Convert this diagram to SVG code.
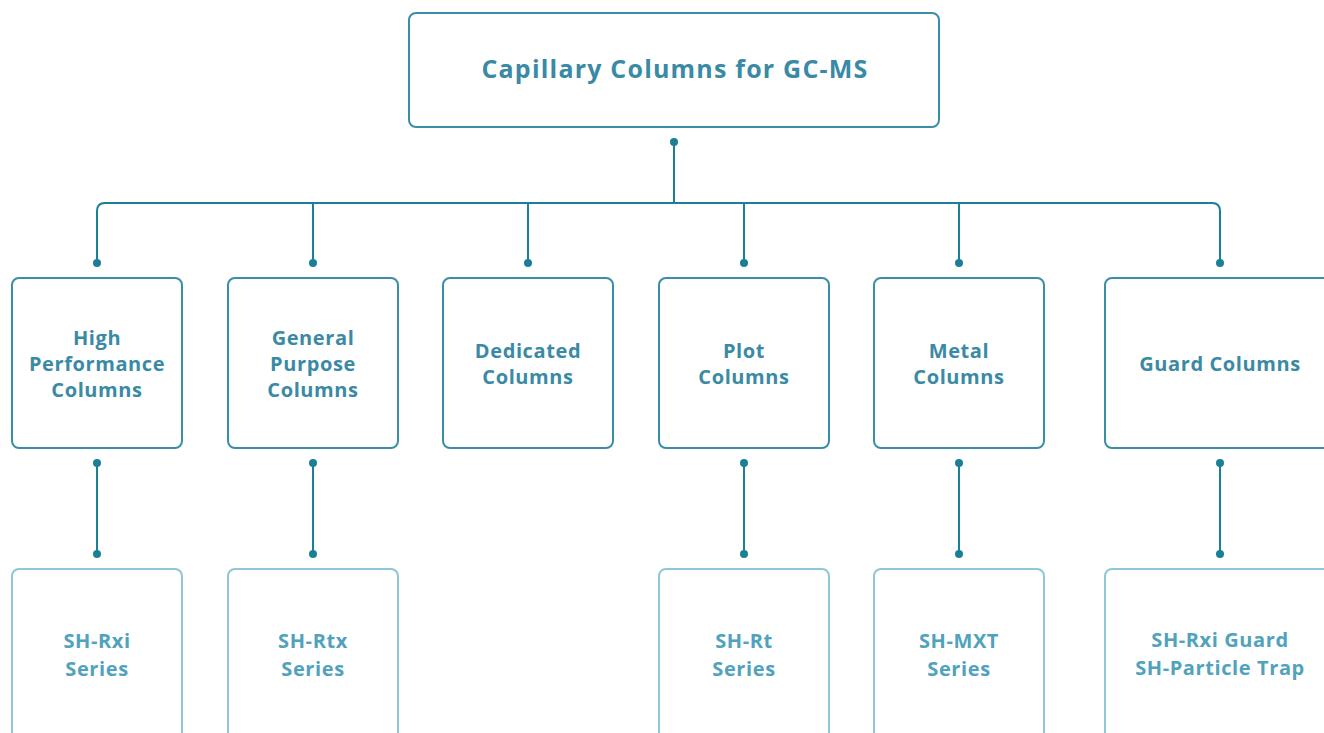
<svg xmlns="http://www.w3.org/2000/svg" width="1324" height="733" viewBox="0 0 1324 733">
<style>
.b1{fill:#fff;stroke:#3b8ea8;stroke-width:2}
.b3{fill:#fff;stroke:#8ec7d7;stroke-width:2}
.t{font-family:"Open Sans","Noto Sans",sans-serif;font-weight:bold;text-anchor:middle}
.t1{fill:#3a8aa5;font-size:25px;letter-spacing:1.2px}
.t2{fill:#3a8aa5;font-size:20px;letter-spacing:0.6px}
.t3{fill:#50a2bd;font-size:20px;letter-spacing:0.6px}
.c{fill:none;stroke:#1a7f97;stroke-width:2}
.d{fill:#1a7f97}
</style>
<rect width="1324" height="733" fill="#fff"/>
<g id="connectors">
<path class="c" d="M674 142V203M105 203H1212Q1220 203 1220 211V263M105 203Q97 203 97 211V263M313 203V263M528 203V263M744 203V263M959 203V263"/>
<path class="c" d="M97 463V554M313 463V554M744 463V554M959 463V554M1220 463V554"/>
<g class="d">
<circle cx="674" cy="142" r="4"/>
<circle cx="97" cy="263" r="4"/><circle cx="313" cy="263" r="4"/><circle cx="528" cy="263" r="4"/><circle cx="744" cy="263" r="4"/><circle cx="959" cy="263" r="4"/><circle cx="1220" cy="263" r="4"/>
<circle cx="97" cy="463" r="4"/><circle cx="313" cy="463" r="4"/><circle cx="744" cy="463" r="4"/><circle cx="959" cy="463" r="4"/><circle cx="1220" cy="463" r="4"/>
<circle cx="97" cy="554" r="4"/><circle cx="313" cy="554" r="4"/><circle cx="744" cy="554" r="4"/><circle cx="959" cy="554" r="4"/><circle cx="1220" cy="554" r="4"/>
</g>
</g>
<g id="root"><rect class="b1" x="409" y="13" width="530" height="114" rx="7"/><text class="t t1" x="675" y="78">Capillary Columns for GC-MS</text></g>
<g id="high"><rect class="b1" x="12" y="278" width="170" height="170" rx="7"/><text class="t t2"><tspan x="97" y="345">High</tspan><tspan x="97" y="371">Performance</tspan><tspan x="97" y="397">Columns</tspan></text></g>
<g id="general"><rect class="b1" x="228" y="278" width="170" height="170" rx="7"/><text class="t t2"><tspan x="313" y="345">General</tspan><tspan x="313" y="371">Purpose</tspan><tspan x="313" y="397">Columns</tspan></text></g>
<g id="dedicated"><rect class="b1" x="443" y="278" width="170" height="170" rx="7"/><text class="t t2"><tspan x="528" y="358">Dedicated</tspan><tspan x="528" y="384">Columns</tspan></text></g>
<g id="plot"><rect class="b1" x="659" y="278" width="170" height="170" rx="7"/><text class="t t2"><tspan x="744" y="358">Plot</tspan><tspan x="744" y="384">Columns</tspan></text></g>
<g id="metal"><rect class="b1" x="874" y="278" width="170" height="170" rx="7"/><text class="t t2"><tspan x="959" y="358">Metal</tspan><tspan x="959" y="384">Columns</tspan></text></g>
<g id="guard"><rect class="b1" x="1105" y="278" width="230" height="170" rx="7"/><text class="t t2" x="1220" y="371">Guard Columns</text></g>
<g id="rxi"><rect class="b3" x="12" y="569" width="170" height="180" rx="7"/><text class="t t3"><tspan x="97" y="648">SH-Rxi</tspan><tspan x="97" y="676">Series</tspan></text></g>
<g id="rtx"><rect class="b3" x="228" y="569" width="170" height="180" rx="7"/><text class="t t3"><tspan x="313" y="648">SH-Rtx</tspan><tspan x="313" y="676">Series</tspan></text></g>
<g id="rt"><rect class="b3" x="659" y="569" width="170" height="180" rx="7"/><text class="t t3"><tspan x="744" y="648">SH-Rt</tspan><tspan x="744" y="676">Series</tspan></text></g>
<g id="mxt"><rect class="b3" x="874" y="569" width="170" height="180" rx="7"/><text class="t t3"><tspan x="959" y="648">SH-MXT</tspan><tspan x="959" y="676">Series</tspan></text></g>
<g id="guardseries"><rect class="b3" x="1105" y="569" width="230" height="180" rx="7"/><text class="t t3"><tspan x="1220" y="647">SH-Rxi Guard</tspan><tspan x="1220" y="675">SH-Particle Trap</tspan></text></g>
</svg>
